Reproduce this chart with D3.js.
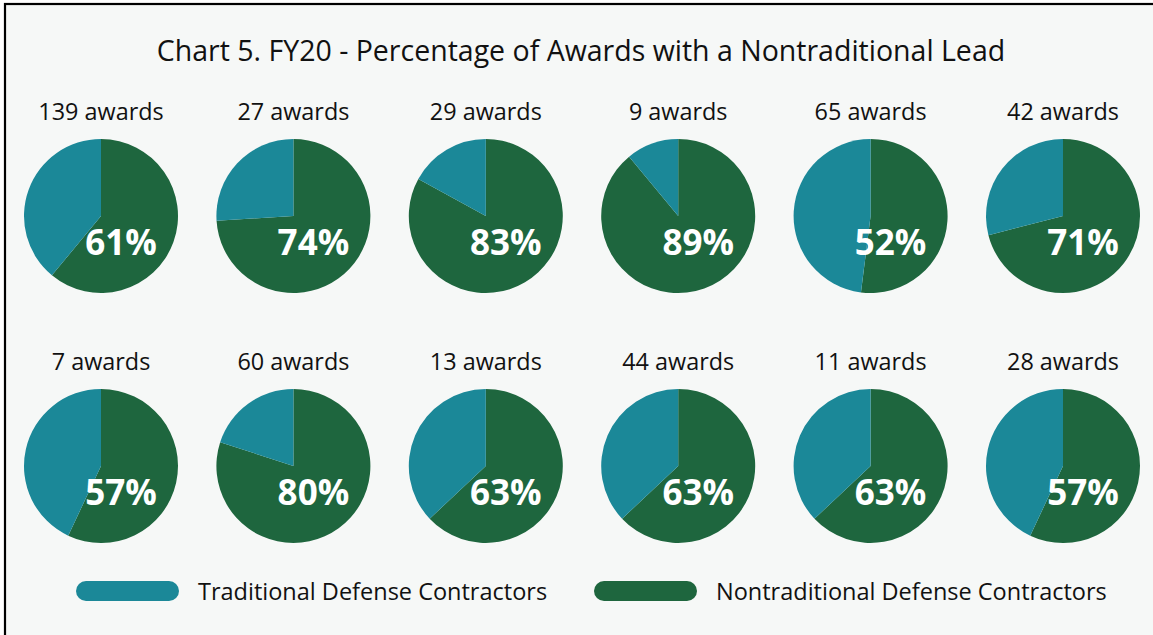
<!DOCTYPE html>
<html>
<head>
<meta charset="utf-8">
<script src="https://cdn.jsdelivr.net/npm/d3@7"></script>
<style>
  html, body { margin: 0; padding: 0; background: #fff; }
  svg { display: block; }
</style>
</head>
<body>
<div id="chart"></div>
<script>
const title = 'Chart 5. FY20 - Percentage of Awards with a Nontraditional Lead';
const awards = [139, 27, 29, 9, 65, 42, 7, 60, 13, 44, 11, 28];
const pctNontrad = [61, 74, 83, 89, 52, 71, 57, 80, 63, 63, 63, 57];
const seriesNames = ['Traditional Defense Contractors', 'Nontraditional Defense Contractors'];

const C = { teal: '#1b8898', green: '#1e663e', bg: '#f6f8f7', ink: '#111' };
const FONT = '"Open Sans", "Noto Sans", sans-serif';
const W = 1153, H = 635, R = 77;

const svg = d3.select('#chart').append('svg').attr('width', W).attr('height', H);
svg.append('rect').attr('x', 5).attr('y', 4).attr('width', W + 10).attr('height', H + 10)
  .attr('fill', C.bg).attr('stroke', '#000').attr('stroke-width', 2.2);

svg.append('text').attr('x', 581).attr('y', 61).attr('text-anchor', 'middle')
  .attr('font-family', FONT).attr('font-size', 28.5).attr('fill', C.ink).text(title);

// 6 columns x 2 rows
const x = d3.scalePoint().domain(d3.range(6)).range([101, 1063]);
const y = d3.scalePoint().domain([0, 1]).range([216, 466]);
const color = d3.scaleOrdinal().domain(seriesNames).range([C.teal, C.green]);

const pie = d3.pie().sort(null).value(d => d.v);
const arc = d3.arc().innerRadius(0).outerRadius(R);

const cells = svg.append('g').selectAll('g.cell')
  .data(awards.map((n, i) => ({ n, p: pctNontrad[i], i })))
  .join('g').attr('class', 'cell')
  .attr('transform', d => `translate(${x(d.i % 6)},${y(Math.floor(d.i / 6))})`);

cells.selectAll('path')
  .data(d => pie([{ k: seriesNames[1], v: d.p }, { k: seriesNames[0], v: 100 - d.p }]))
  .join('path').attr('d', arc).attr('fill', s => color(s.data.k));

cells.append('text').attr('y', -96).attr('text-anchor', 'middle')
  .attr('font-family', FONT).attr('font-size', 23.4).attr('fill', C.ink)
  .text(d => `${d.n} awards`);

cells.append('text').attr('x', 20).attr('y', 39).attr('text-anchor', 'middle')
  .attr('font-family', FONT).attr('font-weight', 700).attr('font-size', 35).attr('fill', '#fff')
  .text(d => `${d.p}%`);

const legend = svg.append('g').selectAll('g').data(seriesNames).join('g')
  .attr('transform', (d, i) => `translate(${[76, 594][i]},581)`);
legend.append('rect').attr('width', 103).attr('height', 20).attr('rx', 10)
  .attr('fill', d => color(d));
legend.append('text').attr('x', 122).attr('y', 19)
  .attr('font-family', FONT).attr('font-size', 23.5).attr('fill', C.ink).text(d => d);
</script>
</body>
</html>
